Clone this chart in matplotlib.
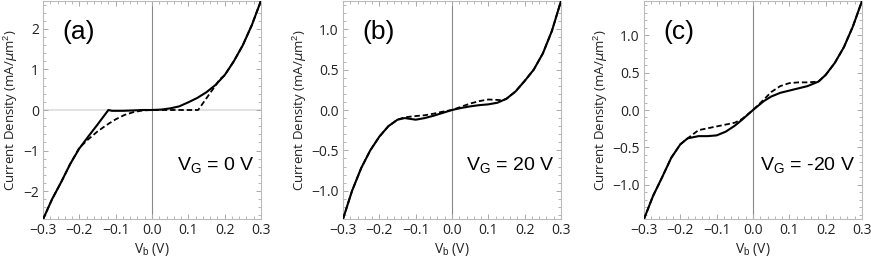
import numpy as np
import matplotlib.pyplot as plt
from matplotlib.ticker import MultipleLocator, FuncFormatter

plt.rcParams['font.family'] = ['Open Sans', 'DejaVu Sans']
plt.rcParams['mathtext.fontset'] = 'custom'
plt.rcParams['mathtext.rm'] = 'Liberation Sans'

# (a) VG = 0 V
a_solid_x = [-0.3, -0.275, -0.25, -0.225, -0.2, -0.19, -0.175, -0.15, -0.135, -0.12, -0.11, -0.1, -0.08,
             -0.05, -0.025, 0.0, 0.025, 0.05, 0.075, 0.1, 0.125, 0.15, 0.175, 0.2, 0.225, 0.25, 0.275, 0.3]
a_solid_y = [-2.7, -2.2, -1.78, -1.33, -0.95, -0.83, -0.65, -0.36, -0.18, 0.0, -0.02, -0.02, -0.02,
             -0.01, 0.0, 0.0, 0.01, 0.04, 0.09, 0.19, 0.3, 0.44, 0.62, 0.86, 1.2, 1.6, 2.1, 2.7]
a_dash_x = [-0.3, -0.275, -0.25, -0.225, -0.2, -0.175, -0.15, -0.125, -0.1, -0.075, -0.05, -0.025, 0.0,
            0.05, 0.1, 0.127, 0.187, 0.2, 0.225, 0.25, 0.275, 0.3]
a_dash_y = [-2.7, -2.2, -1.78, -1.33, -0.93, -0.72, -0.53, -0.37, -0.23, -0.12, -0.05, -0.01, 0.0,
            0.0, 0.0, 0.0, 0.76, 0.86, 1.2, 1.6, 2.1, 2.7]

# (b) VG = 20 V
b_solid_x = [-0.3, -0.275, -0.25, -0.225, -0.2, -0.175, -0.15, -0.13, -0.1, -0.075, -0.05, -0.025, 0.0,
             0.025, 0.05, 0.075, 0.1, 0.125, 0.15, 0.175, 0.2, 0.225, 0.25, 0.275, 0.3]
b_solid_y = [-1.35, -1.0, -0.72, -0.5, -0.33, -0.2, -0.12, -0.1, -0.12, -0.1, -0.07, -0.035, 0.0,
             0.025, 0.045, 0.06, 0.07, 0.09, 0.14, 0.23, 0.36, 0.5, 0.7, 0.98, 1.35]
b_dash_x = [-0.3, -0.275, -0.25, -0.225, -0.2, -0.175, -0.15, -0.13, -0.1, -0.075, -0.05, -0.025, 0.0,
            0.025, 0.05, 0.075, 0.1, 0.125, 0.14, 0.15, 0.175, 0.2, 0.225, 0.25, 0.275, 0.3]
b_dash_y = [-1.35, -1.0, -0.72, -0.5, -0.33, -0.2, -0.12, -0.09, -0.075, -0.065, -0.045, -0.02, 0.0,
            0.04, 0.08, 0.11, 0.13, 0.125, 0.12, 0.14, 0.23, 0.36, 0.5, 0.7, 0.98, 1.35]

# (c) VG = -20 V
c_solid_x = [-0.3, -0.275, -0.25, -0.225, -0.2, -0.18, -0.15, -0.125, -0.1, -0.075, -0.05, -0.03, 0.0,
             0.03, 0.05, 0.075, 0.1, 0.125, 0.15, 0.18, 0.2, 0.225, 0.25, 0.275, 0.3]
c_solid_y = [-1.46, -1.15, -0.9, -0.64, -0.46, -0.38, -0.35, -0.35, -0.34, -0.29, -0.21, -0.13, 0.0,
             0.12, 0.18, 0.23, 0.26, 0.29, 0.32, 0.38, 0.47, 0.63, 0.84, 1.12, 1.46]
c_dash_x = [-0.3, -0.275, -0.25, -0.225, -0.2, -0.18, -0.15, -0.1, -0.05, -0.03, 0.0, 0.03, 0.05, 0.075,
            0.1, 0.125, 0.15, 0.18, 0.2, 0.225, 0.25, 0.275, 0.3]
c_dash_y = [-1.46, -1.15, -0.9, -0.64, -0.46, -0.38, -0.27, -0.22, -0.17, -0.12, 0.0, 0.14, 0.24, 0.32,
            0.36, 0.37, 0.37, 0.38, 0.47, 0.63, 0.84, 1.12, 1.46]

panels = [
    ('(a)', r'V$_\mathrm{G}$ = 0 V', a_solid_x, a_solid_y, a_dash_x, a_dash_y, 2.69, 1, 0.2, True, 0),
    ('(b)', r'V$_\mathrm{G}$ = 20 V', b_solid_x, b_solid_y, b_dash_x, b_dash_y, 1.35, 0.5, 0.1, False, 1),
    ('(c)', r'V$_\mathrm{G}$ = -20 V', c_solid_x, c_solid_y, c_dash_x, c_dash_y, 1.46, 0.5, 0.1, False, 1),
]
lefts = [43 / 871, 343 / 871, 644 / 871]


def fmt(ndig):
    return FuncFormatter(lambda v, p: f'{v:.{ndig}f}'.replace('-', '\u2212'))


fig = plt.figure(figsize=(8.71, 2.57), dpi=100)

for left, (tag, vg, sx, sy, dx, dy, ylim, ymaj, ymin, hline, ndig) in zip(lefts, panels):
    ax = fig.add_axes([left, 38 / 257, 218 / 871, 218 / 257])
    ax.axvline(0, color='#888888', lw=0.8, zorder=1)
    if hline:
        ax.axhline(0, color='#dddddd', lw=1.2, zorder=1)
    ax.plot(dx, dy, color='black', lw=1.3, ls=(0, (3, 1.6)), zorder=3)
    ax.plot(sx, sy, color='black', lw=1.5, zorder=4)
    ax.set_xlim(-0.3, 0.3)
    ax.set_ylim(-ylim, ylim)
    ax.xaxis.set_major_locator(MultipleLocator(0.1))
    ax.xaxis.set_minor_locator(MultipleLocator(0.02))
    ax.yaxis.set_major_locator(MultipleLocator(ymaj))
    ax.yaxis.set_minor_locator(MultipleLocator(ymin))
    ax.yaxis.set_major_formatter(fmt(ndig))
    ax.xaxis.set_major_formatter(fmt(1))
    for s in ax.spines.values():
        s.set_color('#bbbbbb')
        s.set_linewidth(0.8)
    ax.tick_params(which='both', direction='in', top=True, right=True,
                   color='#aaaaaa', labelcolor='#222222', labelsize=10, pad=3)
    ax.tick_params(which='major', length=3.5, width=0.7)
    ax.tick_params(which='minor', length=2, width=0.6)
    ax.set_xlabel(r'V$_\mathrm{b}$ (V)', fontsize=10, color='#222222', labelpad=2)
    ax.set_ylabel(r'Current Density (mA/$\mu$m$^2$)', fontsize=9.5, color='#222222', labelpad=2)
    ax.text(0.09, 0.86, tag, transform=ax.transAxes, fontsize=19,
            family='Liberation Sans', va='center', ha='left')
    ax.text(0.97, 0.245, vg, transform=ax.transAxes, fontsize=14,
            family='Liberation Sans', va='center', ha='right')

fig.savefig('out.png', dpi=100)
